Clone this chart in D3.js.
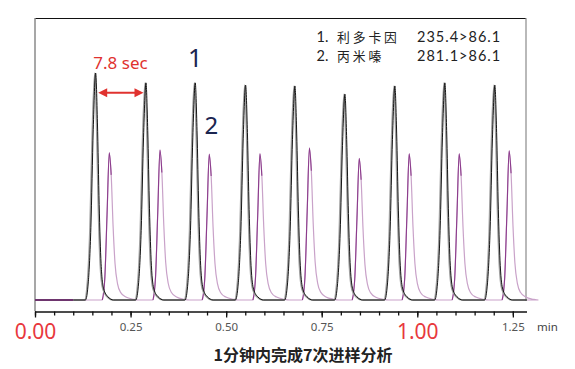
<!DOCTYPE html>
<html><head><meta charset="utf-8">
<script src="https://cdn.jsdelivr.net/npm/d3@7"></script>
<style>body{margin:0;background:#fff}svg{display:block}</style>
</head><body><svg id="c" width="575" height="369"></svg>
<script>
// ---- data ----
const seriesNames = ["利多卡因", "丙米嗪"];
const transitions = ["235.4>86.1", "281.1>86.1"];
// retention times (min) of the peaks
const lidoTimes = [0.1587, 0.2903, 0.4192, 0.5510, 0.6799, 0.8107, 0.9414, 1.0722, 1.2029];
const imiTimes  = [0.1943, 0.3269, 0.4558, 0.5884, 0.7178, 0.8481, 0.9788, 1.1096, 1.2403];
// peak heights (% of full scale)
const lidoHeights = [80.5, 77.0, 77.0, 76.2, 75.9, 73.0, 75.9, 77.0, 76.2];
const imiHeights  = [52.2, 53.2, 51.7, 51.8, 53.9, 50.2, 51.8, 51.8, 52.9];
// peak profiles: [offset seconds, relative height]
const lidoProfile = [[-1.6,0],[-1.15,0.08],[-0.75,0.32],[-0.38,0.75],[0,1],[0.28,0.78],[0.55,0.42],[0.85,0.16],[1.25,0.05],[1.9,0.015],[2.8,0]];
const imiProfile  = [[-1.1,0],[-0.7,0.15],[-0.35,0.58],[0,1],[0.3,0.85],[0.6,0.5],[0.9,0.25],[1.3,0.11],[1.8,0.05],[2.6,0.02],[3.8,0.005],[4.6,0]];
const injectEnd = 0.1;
const runEnd = 1.287;
const majorTicks = [0, 0.25, 0.5, 0.75, 1.0, 1.25];
const minorTicks = d3.range(0, 1.2501, 0.05);
const bigTicks = [0, 1.0];
const spacingLabel = "7.8 sec";
const title = "1分钟内完成7次进样分析";

// ---- drawing ----
const svg = d3.select("#c");
const x = d3.scaleLinear().domain([0, runEnd]).range([35, 527]);
const y = d3.scaleLinear().domain([0, 100]).range([300, 18]);

function trace(times, heights, profile) {
  const pts = [[injectEnd, 0]];
  times.forEach((t, i) => {
    profile.forEach(([s, r]) => pts.push([t + s / 60, heights[i] * r]));
  });
  pts.push([runEnd, 0]);
  return pts;
}
const line = d3.line().x(d => x(d[0])).y(d => y(d[1])).curve(d3.curveMonotoneX);

// frame
svg.append("line").attr("x1", 35).attr("x2", 526).attr("y1", 18.5).attr("y2", 18.5).attr("stroke", "#111").attr("stroke-width", 1.2);
svg.append("line").attr("x1", 35).attr("x2", 35).attr("y1", 18).attr("y2", 311).attr("stroke", "#8a8a8a").attr("stroke-width", 1.5);
svg.append("line").attr("x1", 526).attr("x2", 526).attr("y1", 18).attr("y2", 301).attr("stroke", "#8a8a8a").attr("stroke-width", 1.2);

// purple series (light whole trace + dark fronts)
const imiPts = trace(imiTimes, imiHeights, imiProfile);
svg.append("path").attr("d", line(imiPts)).attr("fill", "none").attr("stroke", "#c9a2c9").attr("stroke-width", 1.2);
imiTimes.forEach((t, i) => {
  const front = imiProfile.filter(p => p[0] <= 0.45).map(([s, r]) => [t + s / 60, imiHeights[i] * r]);
  svg.append("path").attr("d", line(front)).attr("fill", "none").attr("stroke", "#8c3c8c").attr("stroke-width", 1.1);
});

// black series
const lidoPts = trace(lidoTimes, lidoHeights, lidoProfile);
svg.append("path").attr("d", line(lidoPts)).attr("fill", "none").attr("stroke", "#a0a0a0").attr("stroke-width", 1.6).attr("transform", "translate(-0.9,0)");
svg.append("path").attr("d", line(lidoPts)).attr("fill", "none").attr("stroke", "#000").attr("stroke-width", 0.9);

// pre-injection segment
svg.append("line").attr("x1", x(0)).attr("x2", x(injectEnd)).attr("y1", y(0)).attr("y2", y(0)).attr("stroke", "#6e356e").attr("stroke-width", 2);

// axis
const axisG = svg.append("g").attr("transform", "translate(0,311.5)");
axisG.call(d3.axisBottom(x).tickValues(minorTicks).tickSize(4).tickFormat(""));
const majG = svg.append("g").attr("transform", "translate(0,311.5)");
majG.call(d3.axisBottom(x).tickValues(majorTicks).tickSize(6).tickFormat(d3.format(".2f")));
[axisG, majG].forEach(g => {
  g.select(".domain").attr("d", `M${x(0)},0.5H${x(runEnd)}`).attr("stroke", "#111");
  g.selectAll(".tick line").attr("stroke", "#111").attr("stroke-width", 1.3);
});
majG.selectAll(".tick text")
  .attr("y", 11).attr("dy", "0.71em")
  .attr("font-family", "Noto Sans, sans-serif")
  .attr("font-size", 11.5).attr("fill", "#555");
majG.selectAll(".tick text").filter(d => bigTicks.includes(d))
  .attr("font-size", 21).attr("fill", "#e8383d").attr("y", 13);
svg.append("text").attr("x", 537).attr("y", 331).text("min")
  .attr("font-family", "Noto Sans, sans-serif").attr("font-size", 11.5).attr("fill", "#444");

// title
svg.append("text").attr("x", 303).attr("y", 361).attr("text-anchor", "middle").text(title)
  .attr("font-family", "Noto Sans CJK SC, sans-serif").attr("font-weight", "bold").attr("font-size", 16).attr("fill", "#222");

// legend
const legFont = "Lato, sans-serif";
seriesNames.forEach((n, i) => {
  const yy = 42.4 + i * 18.7;
  svg.append("text").attr("x", 316.5).attr("y", yy).text((i + 1) + ".")
    .attr("font-family", legFont).attr("font-size", 14.5).attr("fill", "#222");
  svg.append("text").attr("x", 337).attr("y", yy).text(n)
    .attr("font-family", "Noto Sans CJK SC, sans-serif").attr("font-size", 12.8).attr("letter-spacing", 2.9).attr("fill", "#222");
  svg.append("text").attr("x", 417).attr("y", yy).text(transitions[i])
    .attr("font-family", legFont).attr("font-size", 14.5).attr("letter-spacing", 1.0).attr("fill", "#222");
});

// peak labels
svg.append("text").attr("x", x(lidoTimes[2])).attr("y", 66.5).attr("text-anchor", "middle").text("1")
  .attr("font-family", "Noto Sans, sans-serif").attr("font-size", 25).attr("fill", "#1b2550");
svg.append("text").attr("x", x(imiTimes[2]) + 2).attr("y", 134).attr("text-anchor", "middle").text("2")
  .attr("font-family", "Noto Sans, sans-serif").attr("font-size", 24).attr("fill", "#1b2550");

// spacing annotation
const red = "#e0322f";
svg.append("text").attr("x", 120.5).attr("y", 69).attr("text-anchor", "middle").text(spacingLabel)
  .attr("font-family", "Noto Sans, sans-serif").attr("font-size", 17).attr("fill", red);
const ax1 = x(lidoTimes[0]) + 2.5, ax2 = x(lidoTimes[1]) - 2.5, ay = 92.7;
svg.append("line").attr("x1", ax1 + 6).attr("x2", ax2 - 6).attr("y1", ay).attr("y2", ay).attr("stroke", red).attr("stroke-width", 2);
svg.append("path").attr("d", `M${ax1},${ay}L${ax1 + 9},${ay - 4.5}L${ax1 + 9},${ay + 4.5}Z`).attr("fill", red);
svg.append("path").attr("d", `M${ax2},${ay}L${ax2 - 9},${ay - 4.5}L${ax2 - 9},${ay + 4.5}Z`).attr("fill", red);
</script></body></html>
